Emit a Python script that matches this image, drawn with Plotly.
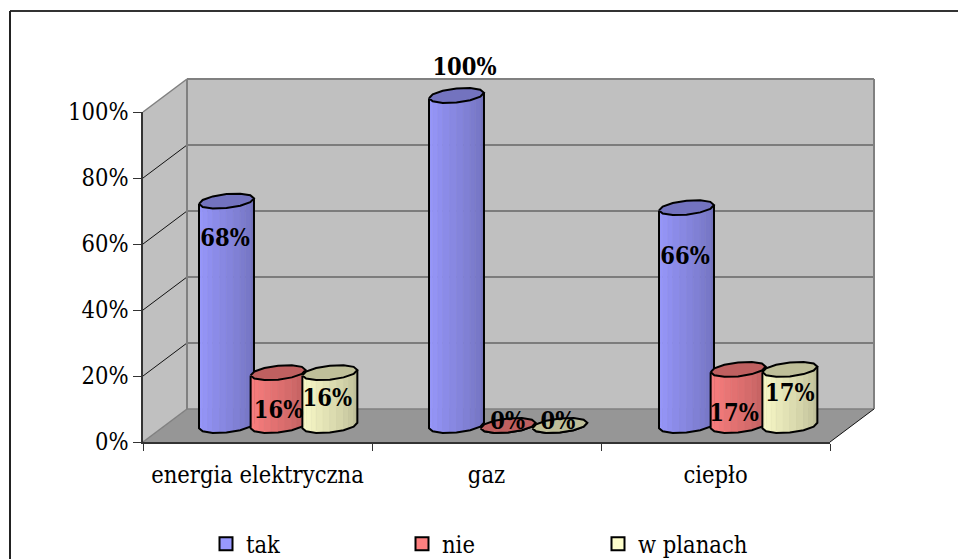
import math
import plotly.graph_objects as go

categories = ["energia elektryczna", "gaz", "ciepło"]
series_names = ["tak", "nie", "w planach"]
tak_values = [68, 100, 66]
nie_values = [16, 0, 17]
planach_values = [16, 0, 17]
y_ticks = [0, 20, 40, 60, 80, 100]

# label placement relative to each cylinder's value, in percentage points
tak_label_shift = [-11.9, 8.1, -15.4]
nie_label_shift = [-11.9, 0.7, -13.9]
planach_label_shift = [-8.4, 0.7, -7.9]
# sideways nudge of the same labels, in pixels
tak_label_nudge = [-1.5, 8, -1.5]
nie_label_nudge = [0.5, -0.5, -4]
planach_label_nudge = [-2.5, -2, 0]

# chart geometry: one x unit is one category, one y unit is one percentage point
W, H = 958, 559
LEFT, RIGHT, TOP, BOTTOM = 143, 830, 112, 442
PX_X = (RIGHT - LEFT) / 3
PX_Y = (BOTTOM - TOP) / 100
DEPTH_X = 44 / PX_X
DEPTH_Y = 10.0
SERIES_OFFSET = [0.3646, 0.59, 0.816]
GROUP_STEP = 1.0044
RX, SHEAR, RY = 25.6 / PX_X, 10 / PX_X, 7.5 / PX_Y
BASE = DEPTH_Y / 2
FACETS = 6
BANDS_PER_FACET = 2

bright = [(153, 153, 255), (255, 128, 128), (255, 255, 204)]
FONT = "DejaVu Serif Condensed, DejaVu Serif, serif"
AXIS_SIZE = 23.5

fig = go.Figure()


def poly(xs, ys, fill, line=None, width=0.0):
    fig.add_trace(go.Scatter(
        x=xs, y=ys, mode="lines", fill="toself" if fill else "none", fillcolor=fill,
        line=dict(color=line or fill or "rgba(0,0,0,0)", width=width),
        showlegend=False, hoverinfo="skip"))


def seg(x0, y0, x1, y1, color, width):
    poly([x0, x1], [y0, y1], None, color, width)


# floor and walls
poly([0, 3, 3 + DEPTH_X, DEPTH_X, 0], [0, 0, DEPTH_Y, DEPTH_Y, 0], "#969696")
poly([0, DEPTH_X, DEPTH_X, 0, 0], [0, DEPTH_Y, 100 + DEPTH_Y, 100, 0], "#C0C0C0")
poly([DEPTH_X, 3 + DEPTH_X, 3 + DEPTH_X, DEPTH_X, DEPTH_X],
     [DEPTH_Y, DEPTH_Y, 100 + DEPTH_Y, 100 + DEPTH_Y, DEPTH_Y], "#C0C0C0")

for v in y_ticks[1:-1]:
    seg(DEPTH_X, v + DEPTH_Y, 3 + DEPTH_X, v + DEPTH_Y, "#666666", 1.5)
    seg(0, v, DEPTH_X, v + DEPTH_Y, "#111111", 1)

seg(0, 100, DEPTH_X, 100 + DEPTH_Y, "#808080", 1.5)
seg(DEPTH_X, 100 + DEPTH_Y, 3 + DEPTH_X, 100 + DEPTH_Y, "#808080", 2)
seg(DEPTH_X, DEPTH_Y, DEPTH_X, 100 + DEPTH_Y, "#808080", 2)
seg(3 + DEPTH_X, DEPTH_Y, 3 + DEPTH_X, 100 + DEPTH_Y, "#808080", 2)
seg(DEPTH_X, DEPTH_Y, 3 + DEPTH_X, DEPTH_Y, "#808080", 1.5)
seg(0, 0, DEPTH_X, DEPTH_Y, "#808080", 1.5)
seg(3, 0, 3 + DEPTH_X, DEPTH_Y, "#111111", 1)


def rim(cx, cy, t):
    return cx + RX * math.cos(t) + SHEAR * math.sin(t), cy + RY * math.sin(t)


def shade(rgb, f):
    return "rgb({},{},{})".format(*[round(c * f) for c in rgb])


tilt = math.atan2(SHEAR, RX)
front = [tilt + math.pi + math.pi * i / FACETS for i in range(FACETS + 1)]
back = [tilt + math.pi * i / FACETS for i in range(FACETS + 1)]
all_values = [tak_values, nie_values, planach_values]
all_shifts = [tak_label_shift, nie_label_shift, planach_label_shift]
all_nudges = [tak_label_nudge, nie_label_nudge, planach_label_nudge]
bands = FACETS * BANDS_PER_FACET


def group_centers(s):
    return [c * GROUP_STEP + SERIES_OFFSET[s] for c in range(len(categories))]


for s, values in enumerate(all_values):
    centers = group_centers(s)
    # body bands, lit from the left; each facet of the rim is split evenly
    for k in range(bands):
        facet, part = divmod(k, BANDS_PER_FACET)
        xs, ys = [], []
        for cx, v in zip(centers, values):
            ax, ay = rim(cx, BASE, front[facet])
            bx, by = rim(cx, BASE, front[facet + 1])
            f0, f1 = part / BANDS_PER_FACET, (part + 1) / BANDS_PER_FACET
            x0, y0 = ax + (bx - ax) * f0, ay + (by - ay) * f0
            x1, y1 = ax + (bx - ax) * f1, ay + (by - ay) * f1
            xs += [x0, x1, x1, x0, x0, None]
            ys += [y0, y1, y1 + v, y0 + v, y0, None]
        f = 1.0 - 0.27 * (k / (bands - 1)) ** 1.1
        poly(xs, ys, shade(bright[s], f), width=0.6)
    # outline of the body, then the lid
    for cx, v in zip(centers, values):
        pts = [rim(cx, BASE, t) for t in front]
        xs = [pts[0][0]] + [p[0] for p in pts] + [pts[-1][0]]
        ys = [pts[0][1] + v] + [p[1] for p in pts] + [pts[-1][1] + v]
        poly(xs, ys, None, "#000000", 2)
        lid = [rim(cx, BASE + v, t) for t in front + back[1:]]
        poly([p[0] for p in lid], [p[1] for p in lid], shade(bright[s], 0.75), "#000000", 2)

# value labels
for s, values in enumerate(all_values):
    fig.add_trace(go.Scatter(
        x=[c + n / PX_X for c, n in zip(group_centers(s), all_nudges[s])],
        y=[v + BASE + d for v, d in zip(values, all_shifts[s])],
        text=[f"{v}%" for v in values], mode="text",
        textfont=dict(family=FONT, size=AXIS_SIZE, color="#000000", weight="bold"),
        showlegend=False, hoverinfo="skip"))

# legend entries, on the subplot that carries the visible axes
for s, name in enumerate(series_names):
    fig.add_trace(go.Scatter(
        x=[None], y=[None], mode="markers", name=name, xaxis="x2", yaxis="y2",
        marker=dict(symbol="square", size=13, color=shade(bright[s], 1.0),
                    line=dict(color="#000000", width=2))))

fig.update_layout(
    width=W, height=H, autosize=False,
    margin=dict(l=0, r=0, t=0, b=0, autoexpand=False),
    paper_bgcolor="#FFFFFF", plot_bgcolor="rgba(0,0,0,0)",
    font=dict(family=FONT, size=AXIS_SIZE, color="#000000"),
    # full-page scene axes, same scale as the visible ones so walls can extend past them
    xaxis=dict(domain=[0, 1], range=[-LEFT / PX_X, (W - LEFT) / PX_X], visible=False),
    yaxis=dict(domain=[0, 1], range=[(BOTTOM - H) / PX_Y, BOTTOM / PX_Y], visible=False),
    xaxis2=dict(domain=[LEFT / W, RIGHT / W], anchor="y2", range=[0, 3],
                tickvals=[0.5, 1.5, 2.5], ticktext=categories,
                ticks="outside", ticklen=0, showgrid=False, zeroline=False,
                showline=True, linecolor="#333333", linewidth=2, ticklabelstandoff=11,
                minor=dict(tick0=0, dtick=1, ticks="outside", ticklen=7, tickcolor="#333333",
                           tickwidth=1, showgrid=False)),
    yaxis2=dict(domain=[(H - BOTTOM) / H, (H - TOP) / H], anchor="x2", range=[0, 100],
                tickvals=y_ticks, ticktext=[f"{v}%" for v in y_ticks],
                ticks="outside", ticklen=8, tickcolor="#333333", tickwidth=1,
                showgrid=False, zeroline=False, showline=True, linecolor="#333333", linewidth=1.5),
    legend=dict(orientation="h", x=206 / W, y=1 - 522 / H, xanchor="left", yanchor="top",
                entrywidth=151, entrywidthmode="pixels", bgcolor="rgba(0,0,0,0)",
                font=dict(family=FONT, size=AXIS_SIZE)),
    shapes=[dict(type="line", xref="paper", yref="paper", x0=10 / W, x1=1, y0=1 - 11 / H, y1=1 - 11 / H,
                 line=dict(color="#333333", width=2)),
            dict(type="line", xref="paper", yref="paper", x0=10 / W, x1=10 / W, y0=0, y1=1 - 11 / H,
                 line=dict(color="#222222", width=2))],
)

fig.write_html("out.html")
